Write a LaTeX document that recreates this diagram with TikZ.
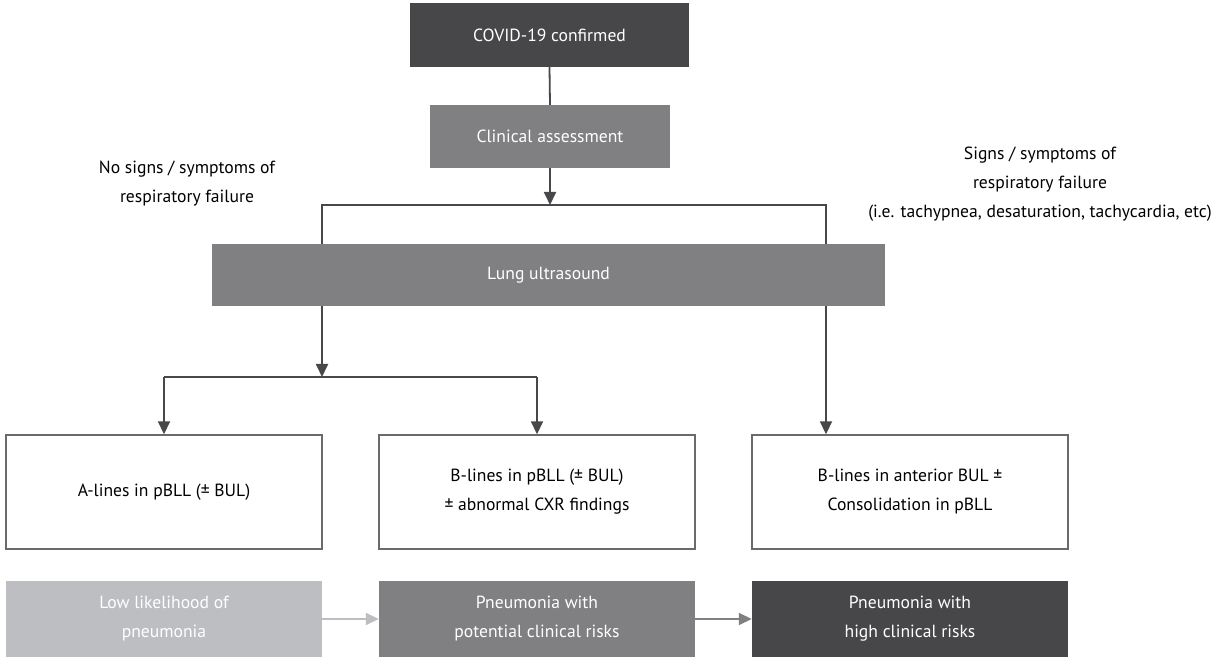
\documentclass[tikz,border=0pt]{standalone}
\usepackage{fontspec}
\setmainfont{PT Sans}
\usetikzlibrary{arrows.meta}
\definecolor{cdark}{HTML}{47474A}
\definecolor{cmid}{HTML}{808083}
\definecolor{clight}{HTML}{BDBEC1}
\definecolor{cline}{HTML}{48484B}
\definecolor{cborder}{HTML}{6A6A6D}
\begin{document}
\begin{tikzpicture}[x=1pt,y=-1pt,
  every node/.style={font=\fontsize{17.6}{29}\selectfont, align=center, inner sep=0pt},
  filled/.style={fill=#1, text=white, draw=none},
  outl/.style={draw=cborder, line width=1.4pt, fill=white, text=black, minimum width=316pt, minimum height=114pt},
  conn/.style={draw=cline, line width=1.8pt},
  arr/.style={conn, -{Triangle[length=13pt,width=12pt]}},
  harr/.style={line width=1.8pt, draw=#1, -{Triangle[length=13pt,width=12pt]}, #1},
  lbl/.style={text=black}
]
\useasboundingbox (0,0) rectangle (1216,660);
\fill[white] (0,0) rectangle (1216,660);

\node[filled=cdark, minimum width=279pt, minimum height=64pt] (covid) at (549.5,35) {COVID-19 confirmed};
\node[filled=cmid, minimum width=240pt, minimum height=63pt] (clin) at (550,136.5) {Clinical assessment};
\node[filled=cmid, minimum width=673pt, minimum height=62pt] (lung) at (548.5,275) {Lung ultrasound};

\node[lbl] (nosig) at (187,184) {No signs / symptoms of\\respiratory failure};
\node[lbl] (sig) at (1040,184) {Signs / symptoms of\\respiratory failure\\(i.e. tachypnea, desaturation, tachycardia, etc)};

\node[outl] (A) at (164,492) {A-lines in pBLL (± BUL)};
\node[outl] (B) at (537,492) {B-lines in pBLL (± BUL)\\± abnormal CXR findings};
\node[outl] (C) at (910,492) {B-lines in anterior BUL ±\\Consolidation in pBLL};

\node[filled=clight, minimum width=316pt, minimum height=76pt] (low) at (164,619) {Low likelihood of\\pneumonia};
\node[filled=cmid, minimum width=316pt, minimum height=76pt] (pot) at (537,619) {Pneumonia with\\potential clinical risks};
\node[filled=cdark, minimum width=316pt, minimum height=76pt] (high) at (910,619) {Pneumonia with\\high clinical risks};

\coordinate (j1) at (550,205);
\coordinate (b1) at (322,205);
\coordinate (b2) at (826,205);
\coordinate (j2) at (322,377);
\coordinate (c1) at (164,377);
\coordinate (c2) at (537,377);

\draw[conn] (covid.south) -- (clin.north);
\draw[arr] (clin.south) -- (j1);
\draw[conn] (b1 |- lung.north) -- (b1) -- (b2) -- (b2 |- lung.north);
\draw[arr] (lung.south -| j2) -- (j2);
\draw[conn] (c1) -- (c2);
\draw[arr] (c1) -- (A.north);
\draw[arr] (c2) -- (B.north);
\draw[arr] (lung.south -| b2) -- (C.north -| b2);

\draw[harr=clight] (low.east) -- (pot.west);
\draw[harr=cmid] (pot.east) -- (high.west);
\end{tikzpicture}
\end{document}
